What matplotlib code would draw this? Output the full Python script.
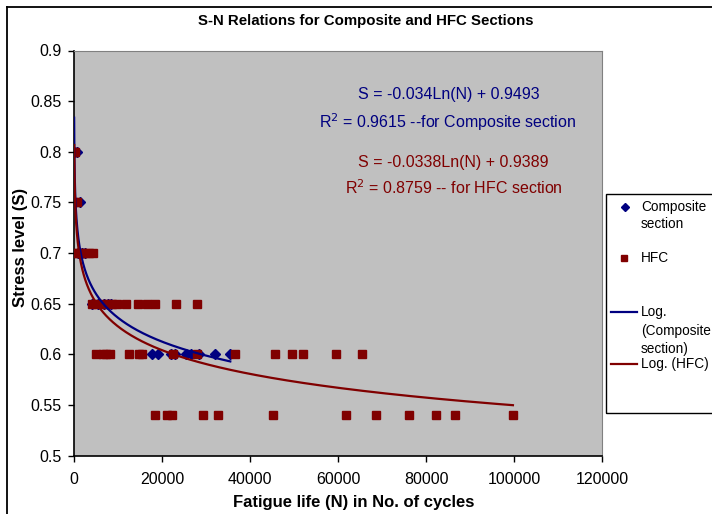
import numpy as np
import matplotlib
matplotlib.use("Agg")
import matplotlib.pyplot as plt
from matplotlib.lines import Line2D
from matplotlib.patches import Rectangle

plt.rcParams['font.family'] = ['Liberation Sans', 'DejaVu Sans']

# ---- data ----
comp_N = [30, 750, 1360, 1000, 1800, 2600, 4000, 5500, 6800, 7800, 8500,
          17800, 19000, 22000, 23000, 25500, 26500, 28500, 32000, 35500]
comp_S = [0.80, 0.80, 0.75, 0.70, 0.70, 0.70, 0.65, 0.65, 0.65, 0.65, 0.65,
          0.60, 0.60, 0.60, 0.60, 0.60, 0.60, 0.60, 0.60, 0.60]

hfc_N = [50, 300,
         100, 600,
         200, 1000, 1800, 2600, 3400, 4300,
         4000, 5200, 6500, 7500, 8700, 9800, 11800, 14500, 16500, 18500, 23200, 28000,
         5100, 6500, 7300, 8200, 12600, 14700, 15500, 22400, 28000, 36600, 45700, 49600,
         52000, 59500, 65500,
         18500, 21200, 22200, 29200, 32600, 45100, 61800, 68600, 76200, 82200, 86600, 99700]
hfc_S = [0.80, 0.80,
         0.75, 0.75,
         0.70, 0.70, 0.70, 0.70, 0.70, 0.70,
         0.65, 0.65, 0.65, 0.65, 0.65, 0.65, 0.65, 0.65, 0.65, 0.65, 0.65, 0.65,
         0.60, 0.60, 0.60, 0.60, 0.60, 0.60, 0.60, 0.60, 0.60, 0.60, 0.60, 0.60,
         0.60, 0.60, 0.60,
         0.54, 0.54, 0.54, 0.54, 0.54, 0.54, 0.54, 0.54, 0.54, 0.54, 0.54, 0.54]

# trendline coefficients (S = a*ln(N) + b) as shown on the chart
comp_a, comp_b = -0.034, 0.9493
hfc_a, hfc_b = -0.0338, 0.9389

x_ticks = [0, 20000, 40000, 60000, 80000, 100000, 120000]
y_ticks = [0.5, 0.55, 0.6, 0.65, 0.7, 0.75, 0.8, 0.85, 0.9]

BLUE = '#000080'
RED = '#800000'

W, H = 712, 514
fig = plt.figure(figsize=(W / 100, H / 100), dpi=100)

def fx(x):
    return x / W

def fy(y):
    return 1 - y / H

ax = fig.add_axes([fx(74), fy(455.7), (602.3 - 74) / W, (455.7 - 50.5) / H])
ax.set_facecolor('#C0C0C0')

ax.plot(comp_N, comp_S, linestyle='none', marker='D', markersize=4.8,
        color=BLUE, zorder=3)
ax.plot(hfc_N, hfc_S, linestyle='none', marker='s', markersize=5.2,
        color=RED, zorder=4)

nc = np.geomspace(min(comp_N), max(comp_N), 400)
ax.plot(nc, comp_a * np.log(nc) + comp_b, color=BLUE, lw=1.6, zorder=5)
nh = np.geomspace(min(hfc_N), max(hfc_N), 400)
ax.plot(nh, hfc_a * np.log(nh) + hfc_b, color=RED, lw=1.6, zorder=6)

ax.set_xlim(0, 120000)
ax.set_ylim(0.5, 0.9)
ax.set_xticks(x_ticks)
ax.set_xticklabels([str(t) for t in x_ticks])
ax.set_yticks(y_ticks)
ax.set_yticklabels([f'{t:g}' for t in y_ticks])
ax.tick_params(direction='out', length=4, width=1, labelsize=11.5, pad=5,
               colors='black')
ax.tick_params(axis='x', pad=8)
for s in ('top', 'right'):
    ax.spines[s].set_color('#808080')
for s in ('left', 'bottom'):
    ax.spines[s].set_color('black')
    ax.spines[s].set_linewidth(1.2)

# equations (figure coords)
fig.text(fx(449), fy(95), 'S = -0.034Ln(N) + 0.9493', color=BLUE,
         fontsize=11.5, ha='center', va='center')
fig.text(fx(448), fy(122), 'R$^2$ = 0.9615 --for Composite section', color=BLUE,
         fontsize=11.5, ha='center', va='center')
fig.text(fx(453), fy(162), 'S = -0.0338Ln(N) + 0.9389', color=RED,
         fontsize=11.5, ha='center', va='center')
fig.text(fx(454), fy(188), 'R$^2$ = 0.8759 -- for HFC section', color=RED,
         fontsize=11.5, ha='center', va='center')

# title and axis labels
fig.text(fx(366), fy(21), 'S-N Relations for Composite and HFC Sections',
         fontsize=10.8, fontweight='bold', ha='center', va='center')
fig.text(fx(354), fy(503), 'Fatigue life (N) in No. of cycles',
         fontsize=12, fontweight='bold', ha='center', va='center')
fig.text(fx(21), fy(247), 'Stress level (S)', fontsize=12, fontweight='bold',
         rotation=90, ha='center', va='center')

# chart frame (clipped at right and bottom)
fig.add_artist(Line2D([fx(7), fx(712)], [fy(7), fy(7)], color='black', lw=1.3))
fig.add_artist(Line2D([fx(7), fx(7)], [fy(7), fy(514)], color='black', lw=1.3))

# legend box
fig.add_artist(Rectangle((fx(605.5), fy(412.7)), fx(720) - fx(605.5),
                         fy(194.3) - fy(412.7), fill=False, edgecolor='black',
                         lw=1.0))
fig.add_artist(Line2D([fx(625)], [fy(207)], marker='D', markersize=4.5,
                      color=BLUE, linestyle='none'))
fig.text(fx(641), fy(207), 'Composite', fontsize=9.8, ha='left', va='center')
fig.text(fx(641), fy(224), 'section', fontsize=9.8, ha='left', va='center')
fig.add_artist(Line2D([fx(624)], [fy(258)], marker='s', markersize=5,
                      color=RED, linestyle='none'))
fig.text(fx(641), fy(258), 'HFC', fontsize=9.8, ha='left', va='center')
fig.add_artist(Line2D([fx(611), fx(637)], [fy(312), fy(312)], color=BLUE, lw=1.6))
fig.text(fx(641), fy(312), 'Log.', fontsize=9.8, ha='left', va='center')
fig.text(fx(641), fy(331), '(Composite', fontsize=9.8, ha='left', va='center')
fig.text(fx(641), fy(349), 'section)', fontsize=9.8, ha='left', va='center')
fig.add_artist(Line2D([fx(611), fx(637)], [fy(364), fy(364)], color=RED, lw=1.6))
fig.text(fx(641), fy(364), 'Log. (HFC)', fontsize=9.8, ha='left', va='center')

fig.savefig('out.png', dpi=100)
